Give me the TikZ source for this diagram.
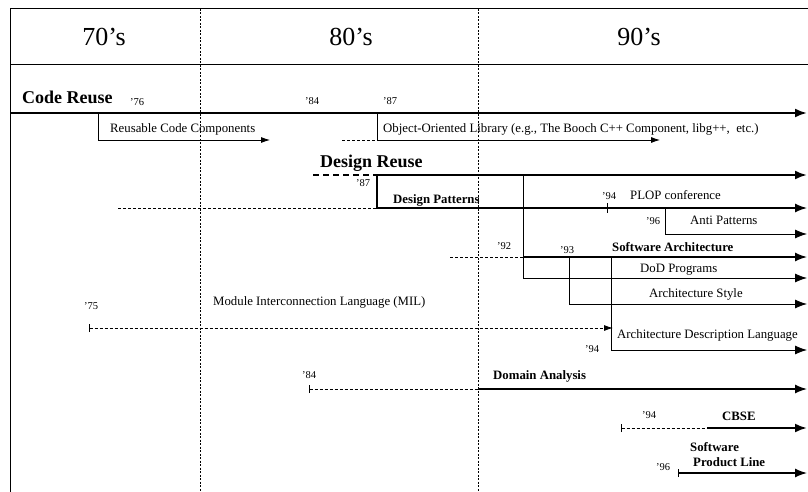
\documentclass[tikz,border=0pt]{standalone}
\usepackage{fontspec}
\setmainfont{Liberation Serif}
\usetikzlibrary{arrows.meta}
\begin{document}
\begin{tikzpicture}[x=1pt,y=-1pt,
    decade/.style={font=\fontsize{26}{30}\selectfont, anchor=base, inner sep=0pt},
    era/.style={font=\bfseries\fontsize{18}{21}\selectfont, anchor=base west, inner sep=0pt},
    lbl/.style={font=\fontsize{12.8}{15}\selectfont, anchor=base west, inner sep=0pt},
    blbl/.style={lbl, font=\bfseries\fontsize{12.8}{15}\selectfont},
    yr/.style={font=\fontsize{10.5}{12}\selectfont, anchor=base west, inner sep=0pt},
    decline/.style={line width=0.6pt, dash pattern=on 2pt off 1.5pt},
    bigtip/.style={-{Latex[length=12pt,width=9pt]}},
    smalltip/.style={-{Latex[length=9pt,width=6pt]}},
    barbig/.style={{Bar[width=8pt,line width=0.8pt]}-{Latex[length=12pt,width=9pt]}},
    barsmall/.style={{Bar[width=8pt,line width=0.8pt]}-{Latex[length=9pt,width=6pt]}},
    bar/.style={{Bar[width=8pt,line width=0.8pt]}-},
    thin/.style={line width=0.8pt},
    track/.style={line width=1.4pt},
    heavy/.style={line width=2.2pt},
    later/.style={line width=0.8pt, dash pattern=on 3pt off 2pt}]
    \useasboundingbox (0,0) rectangle (808,492);
    % frame and decades
    \coordinate (TL) at (10,9);
    \coordinate (TR) at (808,9);
    \coordinate (BL) at (10,492);
    \draw[line width=1pt] (TR) -- (TL) -- (BL);
    \draw[line width=1pt] (10,65) -- (808,65);
    \draw[decline] (200,9) -- (200,492);
    \draw[decline] (478,9) -- (478,492);
    \node[decade] (d70) at (104,46) {70's};
    \node[decade] (d80) at (351,46) {80's};
    \node[decade] (d90) at (639,46) {90's};
    % code reuse
    \coordinate (CR0) at (10,113);
    \coordinate (CR1) at (807,113);
    \coordinate (RC0) at (98,113);
    \coordinate (RC1) at (98,140);
    \coordinate (RC2) at (270,140);
    \coordinate (OO0) at (377,113);
    \coordinate (OO1) at (377,140);
    \coordinate (OO2) at (660,140);
    \coordinate (OOd) at (342,140);
    \draw[heavy,bigtip] (CR0) -- (CR1);
    \node[era] (cr) at (22,104) {Code Reuse};
    \node[yr] (y76) at (130,106) {'76};
    \node[yr] (y84a) at (305,105) {'84};
    \node[yr] (y87a) at (383,105) {'87};
    \draw[thin,smalltip] (RC0) -- (RC1) -- (RC2);
    \node[lbl] (rcc) at (110,132) {Reusable Code Components};
    \draw[later] (OOd) -- (OO1);
    \draw[thin,smalltip] (OO0) -- (OO1) -- (OO2);
    \node[lbl] (ool) at (383,132) {Object-Oriented Library (e.g., The Booch C++ Component, libg++,\ \ etc.)};
    % design reuse
    \coordinate (DR0) at (313,175);
    \coordinate (DR1) at (377,175);
    \coordinate (DR2) at (807,175);
    \coordinate (DP0) at (377,208);
    \coordinate (DP1) at (807,208);
    \coordinate (DPd) at (118,208);
    \draw[heavy, dash pattern=on 6pt off 4pt] (DR0) -- (DR1);
    \draw[heavy,bigtip] (DR1) -- (DR2);
    \node[era] (dr) at (320,167) {Design Reuse};
    \node[yr] (y87b) at (356,186) {'87};
    \draw[later] (DPd) -- (DP0);
    \draw[track,bigtip] (DR1) -- (DP0) -- (DP1);
    \node[blbl] (dp) at (393,203) {Design Patterns};
    \draw[thin] (607,203) -- (607,213);
    \node[yr] (y94a) at (602,199) {'94};
    \node[lbl] (plop) at (630,199) {PLOP conference};
    \coordinate (AP0) at (665,208);
    \coordinate (AP1) at (665,234);
    \coordinate (AP2) at (807,234);
    \draw[thin,bigtip] (AP0) -- (AP1) -- (AP2);
    \node[yr] (y96a) at (646,224) {'96};
    \node[lbl] (ap) at (690,224) {Anti Patterns};
    % software architecture
    \coordinate (SA0) at (450,257);
    \coordinate (SA1) at (523,257);
    \coordinate (SA2) at (807,257);
    \coordinate (DD0) at (523,175);
    \coordinate (DD1) at (523,278);
    \coordinate (DD2) at (807,278);
    \draw[thin,bigtip] (DD0) -- (DD1) -- (DD2);
    \draw[later] (SA0) -- (SA1);
    \draw[track,bigtip] (SA1) -- (SA2);
    \node[yr] (y92) at (497,249) {'92};
    \node[yr] (y93) at (560,253) {'93};
    \node[blbl] (sa) at (612,251) {Software Architecture};
    \node[lbl] (dod) at (640,272) {DoD Programs};
    \coordinate (AS0) at (569,257);
    \coordinate (AS1) at (569,304);
    \coordinate (AS2) at (807,304);
    \draw[thin,bigtip] (AS0) -- (AS1) -- (AS2);
    \node[lbl] (as) at (649,297) {Architecture Style};
    \coordinate (AD0) at (611,257);
    \coordinate (AD1) at (611,350);
    \coordinate (AD2) at (807,350);
    \draw[thin,bigtip] (AD0) -- (AD1) -- (AD2);
    \node[lbl] (adl) at (617,338) {Architecture Description Language};
    \node[yr] (y94b) at (585,352) {'94};
    % module interconnection language
    \coordinate (MI0) at (89,328);
    \coordinate (MI1) at (613,328);
    \draw[later,barsmall] (MI0) -- (MI1);
    \node[yr] (y75) at (84,309) {'75};
    \node[lbl] (mil) at (213,305) {Module Interconnection Language (MIL)};
    % domain analysis
    \coordinate (DA0) at (309,389);
    \coordinate (DA1) at (478,389);
    \coordinate (DA2) at (807,389);
    \draw[later,bar] (DA0) -- (DA1);
    \draw[track,bigtip] (DA1) -- (DA2);
    \node[yr] (y84b) at (302,378) {'84};
    \node[blbl] (da) at (493,379) {Domain Analysis};
    % cbse
    \coordinate (CB0) at (621,428);
    \coordinate (CB1) at (707,428);
    \coordinate (CB2) at (807,428);
    \draw[later,bar] (CB0) -- (CB1);
    \draw[heavy,bigtip] (CB1) -- (CB2);
    \node[yr] (y94c) at (642,418) {'94};
    \node[blbl] (cbse) at (722,420) {CBSE};
    % software product line
    \coordinate (PL0) at (678,473);
    \coordinate (PL1) at (807,473);
    \draw[track,barbig] (PL0) -- (PL1);
    \node[yr] (y96b) at (656,470) {'96};
    \node[blbl] (spl1) at (690,451) {Software};
    \node[blbl] (spl2) at (693,466) {Product Line};
\end{tikzpicture}
\end{document}
